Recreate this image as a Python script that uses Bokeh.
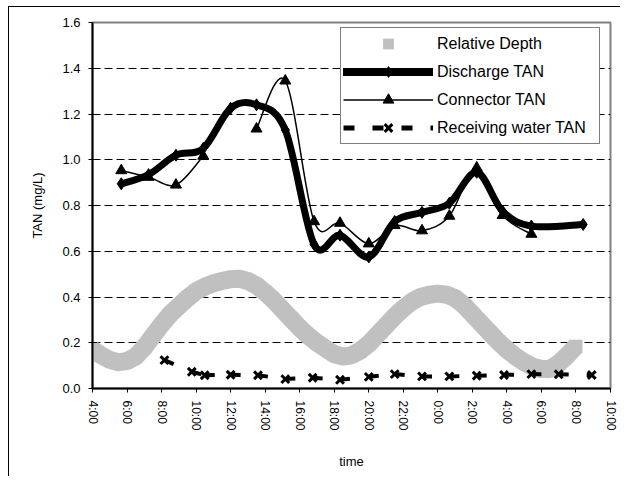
import math
from bokeh.plotting import figure
from bokeh.models import (Range1d, FixedTicker, Legend, LegendItem,
                          PrintfTickFormatter)
from bokeh.embed import file_html
from bokeh.resources import INLINE

FONT = "Liberation Sans"
NAN = float("nan")

# ---------------- data ----------------
tick_labels = ["4:00", "6:00", "8:00", "10:00", "12:00", "14:00", "16:00", "18:00",
               "20:00", "22:00", "0:00", "2:00", "4:00", "6:00", "8:00", "10:00"]
y_ticks = [0.0, 0.2, 0.4, 0.6, 0.8, 1.0, 1.2, 1.4, 1.6]
grid_ticks = [0.2, 0.4, 0.6, 0.8, 1.0, 1.2, 1.4]

depth_time = ["4:00", "4:30", "5:00", "5:30", "6:00", "6:30", "7:00", "7:30", "8:00", "8:30",
              "9:00", "9:30", "10:00", "10:30", "11:00", "11:30", "12:00", "12:30", "13:00", "13:30",
              "14:00", "14:30", "15:00", "15:30", "16:00", "16:30", "17:00", "17:30", "18:00", "18:30",
              "19:00", "19:30", "20:00", "20:30", "21:00", "21:30", "22:00", "22:30", "23:00", "23:30",
              "0:00", "0:30", "1:00", "1:30", "2:00", "2:30", "3:00", "3:30", "4:00", "4:30",
              "5:00", "5:30", "6:00", "6:30", "7:00", "7:30", "8:00"]
depth_rel = [0.17, 0.145, 0.125, 0.115, 0.12, 0.14, 0.18, 0.23, 0.28, 0.325,
             0.36, 0.395, 0.425, 0.445, 0.46, 0.47, 0.478, 0.48, 0.47, 0.45,
             0.42, 0.385, 0.345, 0.305, 0.265, 0.23, 0.2, 0.175, 0.15, 0.14,
             0.145, 0.165, 0.195, 0.235, 0.275, 0.315, 0.35, 0.38, 0.4, 0.41,
             0.415, 0.41, 0.395, 0.365, 0.325, 0.285, 0.245, 0.205, 0.17, 0.14,
             0.115, 0.095, 0.085, 0.085, 0.11, 0.145, 0.185]

disch_time = ["5:40", "7:15", "8:50", "10:25", "12:00", "13:30", "15:10", "16:50", "18:20",
              "20:00", "21:30", "23:05", "0:40", "2:15", "3:45", "5:25", "8:25"]
disch_tan = [0.895, 0.935, 1.02, 1.05, 1.225, 1.24, 1.13, 0.63, 0.67,
             0.575, 0.73, 0.77, 0.81, 0.945, 0.775, 0.71, 0.717]

conn_time = ["5:40", "7:15", "8:50", "10:25", "12:00", "13:30", "15:10", "16:50", "18:20",
             "20:00", "21:30", "23:05", "0:40", "2:15", "3:45", "5:25"]
conn_tan = [0.953, 0.924, 0.89, 1.016, NAN, 1.135, 1.345, 0.73, 0.723,
            0.633, 0.713, 0.69, 0.754, 0.965, 0.757, 0.675]

recv_time = ["8:10", "9:45", "10:30", "12:00", "13:35", "15:10", "16:45", "18:20", "20:00",
             "21:30", "23:05", "0:40", "2:15", "3:50", "5:25", "7:00", "8:55"]
recv_tan = [0.124, 0.073, 0.058, 0.060, 0.058, 0.041, 0.047, 0.038, 0.051,
            0.063, 0.053, 0.053, 0.056, 0.059, 0.063, 0.062, 0.059]


def to_hours(times):
    """hours elapsed since 4:00 on the first day (rolls over midnight)"""
    out, prev, day = [], None, 0
    for t in times:
        h, m = t.split(":")
        v = int(h) + int(m) / 60.0 + 24 * day
        if prev is not None and v < prev - 1e-9:
            day += 1
            v += 24
        out.append(v - 4)
        prev = v
    return out


def smooth_segments(xs, ys):
    """Bezier control points (Excel-like smoothing) for each run of valid points"""
    runs, cur = [], []
    for x, y in zip(xs, ys):
        if y is None or (isinstance(y, float) and math.isnan(y)):
            if cur:
                runs.append(cur)
            cur = []
        else:
            cur.append((x, y))
    if cur:
        runs.append(cur)
    d = dict(x0=[], y0=[], x1=[], y1=[], cx0=[], cy0=[], cx1=[], cy1=[])
    for r in runs:
        n = len(r)
        for i in range(n - 1):
            p0 = r[i - 1] if i > 0 else r[i]
            p1, p2 = r[i], r[i + 1]
            p3 = r[i + 2] if i + 2 < n else r[i + 1]
            d["x0"].append(p1[0]); d["y0"].append(p1[1])
            d["x1"].append(p2[0]); d["y1"].append(p2[1])
            d["cx0"].append(p1[0] + (p2[0] - p0[0]) / 6.0)
            d["cy0"].append(p1[1] + (p2[1] - p0[1]) / 6.0)
            d["cx1"].append(p2[0] - (p3[0] - p1[0]) / 6.0)
            d["cy1"].append(p2[1] - (p3[1] - p1[1]) / 6.0)
    return d


dt = to_hours(depth_time)
ht = to_hours(disch_time)
ct = to_hours(conn_time)
rt = to_hours(recv_time)
tick_pos = [int(round(v)) for v in to_hours(tick_labels)]

# ---------------- figure ----------------
p = figure(width=612, height=470, x_range=Range1d(0, 30), y_range=Range1d(0, 1.6),
           output_backend="svg", toolbar_location=None,
           min_border_left=83, min_border_right=11, min_border_top=15, min_border_bottom=89)
p.styles = {"margin-left": "8px", "margin-top": "6px",
            "border-left": "1px solid #000000", "border-top": "1px solid #000000"}
p.background_fill_color = "white"
p.border_fill_color = "white"
p.outline_line_color = "#808080"
p.outline_line_width = 2

# axes
p.xaxis.ticker = FixedTicker(ticks=tick_pos)
p.xaxis.major_label_overrides = {pos: lab for pos, lab in zip(tick_pos, tick_labels)}
p.xaxis.major_label_orientation = -math.pi / 2
p.xaxis.axis_label = "time"
p.yaxis.ticker = FixedTicker(ticks=y_ticks)
p.yaxis.formatter = PrintfTickFormatter(format="%.1f")
p.yaxis.axis_label = "TAN (mg/L)"
for ax in (p.xaxis[0], p.yaxis[0]):
    ax.axis_line_color = "black"
    ax.axis_line_width = 2
    ax.major_tick_line_color = "black"
    ax.major_tick_line_width = 1
    ax.major_tick_out = 4
    ax.major_tick_in = 0
    ax.minor_tick_line_color = None
    ax.major_label_standoff = 8
    ax.major_label_text_font = FONT
    ax.major_label_text_color = "black"
    ax.axis_label_text_font = FONT
    ax.axis_label_text_font_style = "normal"
    ax.axis_label_text_font_size = "13px"
    ax.axis_label_text_color = "black"
p.xaxis.major_label_text_font_size = "12px"
p.yaxis.major_label_text_font_size = "13px"
p.xaxis.axis_label_standoff = 20
p.yaxis.axis_label_standoff = 14

p.xgrid.visible = False
p.ygrid.ticker = FixedTicker(ticks=grid_ticks)
p.ygrid.grid_line_color = "black"
p.ygrid.grid_line_width = 1
p.ygrid.grid_line_dash = "8 4"

# ---------------- glyphs ----------------
GRAY = "#C0C0C0"
p.line(dt, depth_rel, line_width=18, line_color=GRAY, line_join="round", line_cap="butt")
depth_sq = p.scatter(dt, depth_rel, marker="square", size=13, fill_color=GRAY, line_color=None)

# receiving water: X markers with a short dash starting at each point
p.segment(x0=rt[:-1], y0=recv_tan[:-1], x1=rt[1:], y1=recv_tan[1:],
          line_color="black", line_width=4, line_dash="10 18", line_cap="butt")
recv_pts = p.scatter(rt, recv_tan, marker="x", size=11, line_color="black", line_width=3)

# discharge: thick smoothed line with diamonds
p.bezier(line_color="black", line_width=7, line_cap="round", **smooth_segments(ht, disch_tan))
disch_pts = p.scatter(ht, disch_tan, marker="diamond", size=12, fill_color="black", line_color="black")

# connector: thin smoothed line with triangles
p.bezier(line_color="black", line_width=1.5, **smooth_segments(ct, conn_tan))
conn_pts = p.scatter(ct, conn_tan, marker="triangle", size=11, fill_color="black", line_color="black")

# legend-only line renderers (a single NaN point: nothing is drawn in the plot)
leg_disch = p.line(x=[NAN], y=[NAN], line_color="black", line_width=8, line_cap="round")
leg_conn = p.line(x=[NAN], y=[NAN], line_color="black", line_width=1.5)
leg_recv = p.line(x=[NAN], y=[NAN], line_color="black", line_width=5, line_dash="11 18")

legend = Legend(items=[
    LegendItem(label="Relative Depth", renderers=[depth_sq]),
    LegendItem(label="Discharge TAN", renderers=[leg_disch, disch_pts]),
    LegendItem(label="Connector TAN", renderers=[leg_conn, conn_pts]),
    LegendItem(label="Receiving water TAN", renderers=[leg_recv, recv_pts]),
], location=(248, 244))
legend.border_line_color = "black"
legend.border_line_width = 1
legend.background_fill_color = "white"
legend.background_fill_alpha = 1
legend.label_text_font = FONT
legend.label_text_font_size = "16px"
legend.label_text_color = "black"
legend.glyph_width = 90
legend.glyph_height = 27
legend.label_height = 27
legend.label_width = 160
legend.label_standoff = 4
legend.spacing = 1
legend.padding = 2
legend.margin = 0
p.add_layout(legend)

open("out.html", "w").write(file_html(p, INLINE))
